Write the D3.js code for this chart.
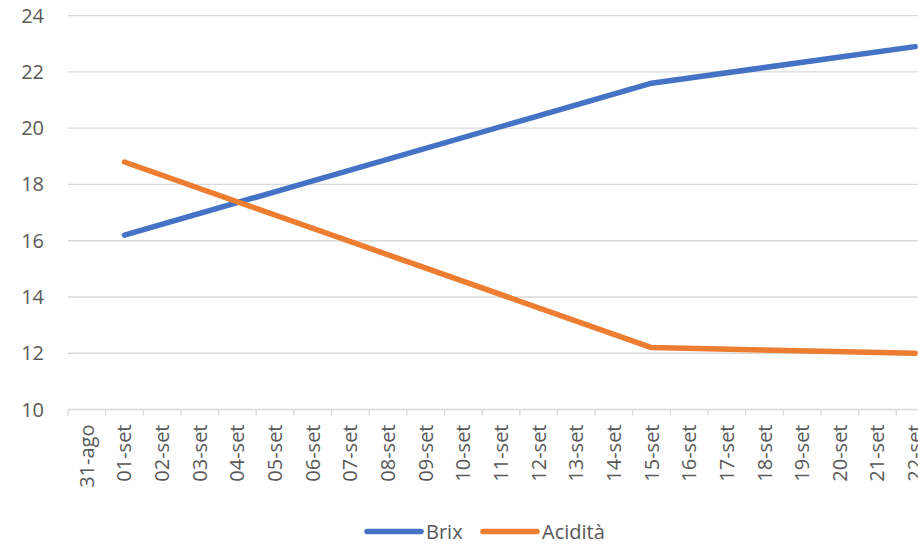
<!DOCTYPE html>
<html><head><meta charset="utf-8">
<script src="https://d3js.org/d3.v7.min.js"></script>
<style>body{margin:0;background:#fff}svg{display:block}</style>
</head><body>
<script>
const categories = ["31-ago","01-set","02-set","03-set","04-set","05-set","06-set","07-set","08-set","09-set","10-set","11-set","12-set","13-set","14-set","15-set","16-set","17-set","18-set","19-set","20-set","21-set","22-set"];
const brixPoints = [["01-set",16.2],["15-set",21.6],["22-set",22.9]];
const aciditaPoints = [["01-set",18.8],["15-set",12.2],["22-set",12.0]];
const yTicks = [10,12,14,16,18,20,22,24];
const seriesNames = ["Brix","Acidità"];
const seriesColors = ["#4472C4","#ED7D31"];

(function(){
const W = 918, H = 545;
const font = "'Open Sans', sans-serif";
const textColor = "#595959";
const svg = d3.select("body").append("svg").attr("width", W).attr("height", H);

const plotLeft = 68, plotTop = 15.7, plotBottom = 409.5;
const step = 37.65;
const x = d3.scaleBand().domain(categories).range([plotLeft, plotLeft + step * categories.length]).padding(0);
const y = d3.scaleLinear().domain([10, 24]).range([plotBottom, plotTop]);

// gridlines
svg.append("g").selectAll("line").data(yTicks.filter(t => t !== 10)).join("line")
  .attr("x1", plotLeft).attr("x2", W)
  .attr("y1", d => y(d)).attr("y2", d => y(d))
  .attr("stroke", "#d9d9d9").attr("stroke-width", 1.3);

// y labels
svg.append("g").selectAll("text").data(yTicks).join("text")
  .attr("x", 44).attr("y", d => y(d)).attr("dy", "0.35em")
  .attr("text-anchor", "end").attr("font-family", font).attr("font-size", 20)
  .attr("fill", textColor).text(d => d);

// x axis line
svg.append("line").attr("x1", plotLeft).attr("x2", W).attr("y1", plotBottom).attr("y2", plotBottom)
  .attr("stroke", "#d9d9d9").attr("stroke-width", 1.3);
// tick marks at band boundaries
const bounds = categories.map(c => x(c)).concat([x(categories[categories.length-1]) + x.bandwidth()]);
svg.append("g").selectAll("line").data(bounds).join("line")
  .attr("x1", d => d).attr("x2", d => d).attr("y1", plotBottom).attr("y2", plotBottom + 6)
  .attr("stroke", "#d9d9d9").attr("stroke-width", 1.3);

// x labels
svg.append("g").selectAll("text").data(categories).join("text")
  .attr("transform", d => `translate(${x(d) + x.bandwidth()/2},${plotBottom + 15}) rotate(-90)`)
  .attr("dy", "0.35em").attr("text-anchor", "end")
  .attr("font-family", font).attr("font-size", 20).attr("fill", textColor).text(d => d);

// lines
const line = d3.line().x(d => x(d[0]) + x.bandwidth()/2).y(d => y(d[1]));
[brixPoints, aciditaPoints].forEach((pts, i) => {
  svg.append("path").datum(pts).attr("d", line).attr("fill", "none")
    .attr("stroke", seriesColors[i]).attr("stroke-width", 5.5)
    .attr("stroke-linecap", "round").attr("stroke-linejoin", "round");
});

// legend
const legendY = 531.5;
const legendX = [367, 483];
seriesNames.forEach((n, i) => {
  svg.append("line").attr("x1", legendX[i]).attr("x2", legendX[i] + 54)
    .attr("y1", legendY).attr("y2", legendY)
    .attr("stroke", seriesColors[i]).attr("stroke-width", 5.5).attr("stroke-linecap", "round");
  svg.append("text").attr("x", legendX[i] + 59).attr("y", legendY).attr("dy", "0.35em")
    .attr("font-family", font).attr("font-size", 20).attr("fill", textColor).text(n);
});
})();
</script>
</body></html>
